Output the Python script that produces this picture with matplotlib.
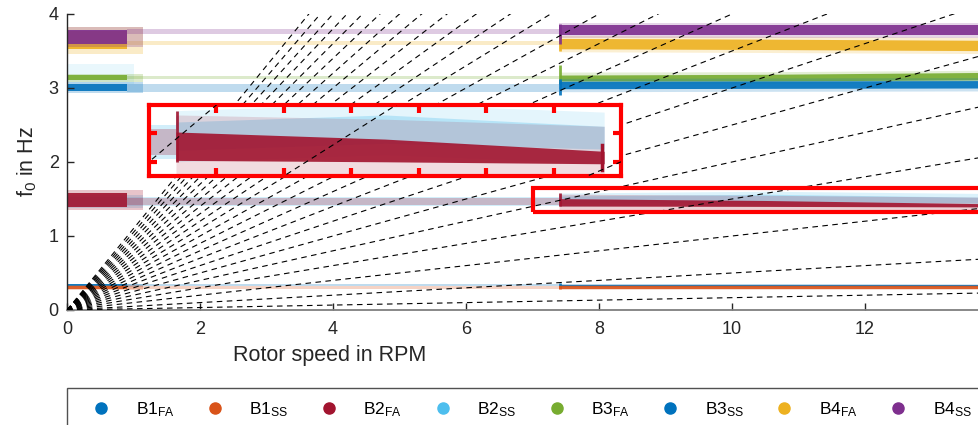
import numpy as np
import matplotlib
matplotlib.use('Agg')
import matplotlib.pyplot as plt
from matplotlib.lines import Line2D
from matplotlib.patches import Rectangle

plt.rcParams['font.family'] = ['Liberation Sans', 'DejaVu Sans']
plt.rcParams['mathtext.fontset'] = 'custom'
plt.rcParams['mathtext.rm'] = 'Liberation Sans'
plt.rcParams['mathtext.it'] = 'Liberation Sans'

# series
labels = [r'B1$_{\rm FA}$', r'B1$_{\rm SS}$', r'B2$_{\rm FA}$', r'B2$_{\rm SS}$',
          r'B3$_{\rm FA}$', r'B3$_{\rm SS}$', r'B4$_{\rm FA}$', r'B4$_{\rm SS}$']
colors = ['#0072BD', '#D95319', '#A2142F', '#4DBEEE',
          '#77AC30', '#0072BD', '#EDB120', '#7E2F8E']

# dense cluster at low speed
left_rpm = [0.0, 0.9]
left_fade_rpm = [0.0, 1.15]
left_f0 = [0.335, 0.300, 1.485, 1.47, 3.14, 3.01, 3.645, 3.69]
left_hw = [0.012, 0.022, 0.09, 0.06, 0.035, 0.05, 0.12, 0.09]

# sparse points in between
mid_rpm = [0.9, 7.4]
mid_f0 = [0.335, 0.300, 1.47, 1.47, 3.14, 3.00, 3.61, 3.76]
mid_hw = [0.010, 0.020, 0.045, 0.06, 0.025, 0.05, 0.03, 0.035]

# dense cloud above 7.4 rpm
right_rpm = [7.4, 10.5, 13.75]
right_f0 = [[0.335, 0.335, 0.333],
            [0.300, 0.300, 0.300],
            [1.455, 1.440, 1.415],
            [1.490, 1.515, 1.485],
            [3.135, 3.140, 3.160],
            [3.040, 3.045, 3.050],
            [3.600, 3.590, 3.575],
            [3.780, 3.780, 3.780]]
right_hw = [[0.012, 0.012, 0.012],
            [0.022, 0.022, 0.022],
            [0.050, 0.040, 0.022],
            [0.050, 0.050, 0.040],
            [0.040, 0.045, 0.050],
            [0.050, 0.050, 0.050],
            [0.070, 0.070, 0.070],
            [0.065, 0.065, 0.065]]
# outer scatter around the dense cloud
right_spread = [0.02, 0.035, 0.11, 0.09, 0.08, 0.09, 0.11, 0.10]

# vertical streak at 7.4 rpm
spike_lo = [0.31, 0.28, 1.40, 1.42, 3.05, 2.90, 3.50, 3.60]
spike_hi = [0.36, 0.33, 1.58, 1.56, 3.31, 3.12, 3.72, 3.87]

# light B2_SS points near 3.2 Hz at low speed
b2ss_low_rpm = [0.0, 1.0]
b2ss_low_f0 = [3.05, 3.33]

# harmonic orders of the rotor speed (dashed lines)
orders = [1, 3, 6, 9, 12, 15, 18, 21, 24, 27, 30, 33, 36, 39, 42, 45,
          48, 51, 54, 57, 60, 63, 66]

draw_order = [0, 1, 3, 2, 4, 5, 6, 7]
core_alpha = [0.9, 0.9, 0.9, 0.3, 0.9, 0.9, 0.9, 0.9]


def band(ax, x, c, hw, color, alpha, z=1):
    c = np.array(c, dtype=float)
    hw = np.array(hw, dtype=float)
    if c.size == 1:
        c = np.full(len(x), c)
    if hw.size == 1:
        hw = np.full(len(x), hw)
    ax.fill_between(x, c - hw, c + hw, color=color, alpha=alpha, lw=0, zorder=z)


def draw_data(ax, halo_alpha=0.2):
    band(ax, b2ss_low_rpm, np.mean(b2ss_low_f0), (b2ss_low_f0[1] - b2ss_low_f0[0]) / 2,
         colors[3], 0.12)
    for i in draw_order:
        col = colors[i]
        band(ax, left_fade_rpm, left_f0[i], left_hw[i] * 1.5, col, 0.25)
        band(ax, left_rpm, left_f0[i], left_hw[i], col, core_alpha[i])
        band(ax, mid_rpm, mid_f0[i], mid_hw[i], col, 0.25)
        band(ax, right_rpm, right_f0[i], right_spread[i], col, halo_alpha)
        band(ax, right_rpm, right_f0[i], right_hw[i], col, core_alpha[i])
        ax.plot([7.42, 7.42], [spike_lo[i], spike_hi[i]], color=col, lw=2,
                alpha=core_alpha[i], zorder=1, solid_capstyle='butt')


def draw_orders(ax):
    for n in orders:
        ax.plot([0, 14], [0, n * 14 / 60], color='black', lw=0.8,
                dashes=(5, 4), zorder=3)


fig = plt.figure(figsize=(9.79, 4.25), dpi=100)
ax = fig.add_axes([67 / 979, 115 / 425, 931 / 979, 296 / 425])

draw_data(ax)
draw_orders(ax)
ax.add_patch(Rectangle((7.0, 1.324), 7.0, 0.325, fill=False, ec='#FF0000',
                       lw=3, zorder=4, clip_on=False))

ax.set_xlim(0, 14)
ax.set_ylim(0, 4)
ax.set_xticks([0, 2, 4, 6, 8, 10, 12])
ax.set_yticks([0, 1, 2, 3, 4])
ax.tick_params(direction='in', length=5, width=1, labelsize=13,
               colors='#262626')
ax.tick_params(axis='x', pad=8)
ax.tick_params(axis='y', pad=6)
for s in ['top', 'right']:
    ax.spines[s].set_visible(False)
ax.spines['left'].set_color('#262626')
ax.spines['bottom'].set_color('#7f7f7f')
ax.spines['left'].set_linewidth(1.0)
ax.spines['bottom'].set_linewidth(1.3)
ax.set_xlabel('Rotor speed in RPM', fontsize=15.5, color='#262626')
ax.set_ylabel(r'f$_0$ in Hz', fontsize=15.5, color='#262626')
ax.xaxis.set_label_coords((330 - 67) / 931, -0.118)
ax.yaxis.set_label_coords(-0.03, 0.5)

# zoomed view of the B2 band
axin = fig.add_axes([149 / 979, (425 - 176) / 425, 472 / 979, 71 / 425])
axin.set_facecolor('white')
draw_data(axin, halo_alpha=0.15)
draw_orders(axin)
axin.plot([13.72, 13.72], [1.37, 1.46], color=colors[2], lw=2.5, zorder=2)
axin.set_xlim(7, 14)
axin.set_ylim(1.35, 1.6)
axin.set_xticks([8, 9, 10, 11, 12, 13])
axin.set_yticks([1.4, 1.5])
axin.tick_params(direction='in', length=6, width=3, colors='#FF0000',
                 labelbottom=False, labelleft=False,
                 top=True, right=True)
for s in axin.spines.values():
    s.set_color('#FF0000')
    s.set_linewidth(3)

handles = [Line2D([], [], marker='o', ls='none', color=c, markersize=8)
           for c in colors]
leg = fig.legend(handles, labels, loc='upper left', ncols=8, mode='expand',
                 bbox_to_anchor=(67 / 979, 0.0, 0.937, 1 - 388 / 425),
                 fontsize=12.5, frameon=True, fancybox=False,
                 edgecolor='#262626', borderaxespad=0, handlelength=2.5,
                 handletextpad=0.75, borderpad=0.7)
leg.get_frame().set_linewidth(1.0)

fig.savefig('out.png', dpi=100)
